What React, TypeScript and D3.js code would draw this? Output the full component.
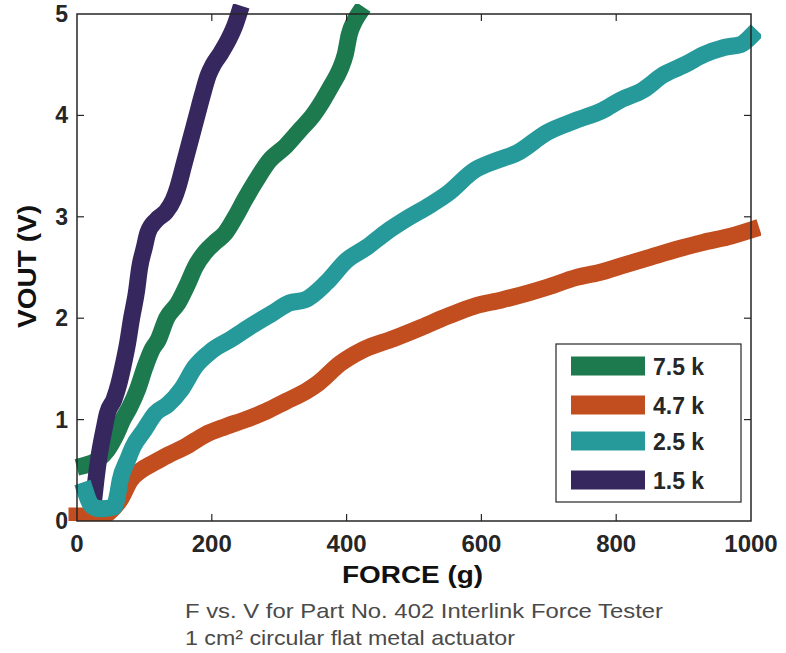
import React from "react";
import * as d3 from "d3";

// force (g) / output voltage (V)
const green75x = [12, 30, 45, 58, 68, 78, 90, 101, 112, 120, 133, 150, 165, 175, 190, 205, 220, 235, 249, 265, 285, 310, 330, 350, 365, 378, 390, 398, 404, 411, 418];
const green75y = [0.55, 0.6, 0.7, 0.85, 1.0, 1.12, 1.3, 1.52, 1.7, 1.78, 2.0, 2.15, 2.35, 2.5, 2.65, 2.75, 2.84, 3.0, 3.17, 3.35, 3.55, 3.7, 3.85, 4.0, 4.15, 4.3, 4.45, 4.6, 4.8, 4.92, 5.0];

const orange47x = [0, 15, 30, 50, 65, 79, 95, 113, 135, 160, 190, 220, 250, 280, 310, 340, 358, 390, 425, 470, 511, 550, 590, 630, 670, 700, 740, 775, 810, 850, 890, 930, 965, 1000];
const orange47y = [0.05, 0.05, 0.02, 0.1, 0.22, 0.4, 0.5, 0.57, 0.65, 0.73, 0.85, 0.93, 1.0, 1.08, 1.18, 1.28, 1.36, 1.55, 1.69, 1.8, 1.91, 2.02, 2.12, 2.18, 2.25, 2.31, 2.4, 2.45, 2.52, 2.6, 2.68, 2.75, 2.8, 2.87];

const teal25x = [12, 22, 35, 55, 60, 64, 75, 83, 100, 116, 135, 155, 175, 200, 230, 260, 290, 315, 338, 370, 400, 430, 457, 494, 520, 550, 590, 620, 653, 697, 740, 780, 806, 840, 870, 902, 930, 960, 985, 1000];
const teal25y = [0.3, 0.15, 0.12, 0.14, 0.25, 0.4, 0.6, 0.73, 0.9, 1.06, 1.15, 1.3, 1.52, 1.68, 1.8, 1.93, 2.05, 2.15, 2.18, 2.35, 2.57, 2.7, 2.84, 3.0, 3.1, 3.23, 3.46, 3.55, 3.63, 3.83, 3.95, 4.05, 4.15, 4.25, 4.4, 4.5, 4.6, 4.67, 4.7, 4.78];

const purple15x = [25, 28, 33, 40, 45, 55, 62, 68, 75, 81, 88, 93, 100, 105, 118, 132, 143, 150, 158, 168, 178, 186, 195, 202, 212, 225, 235, 240];
const purple15y = [0.22, 0.4, 0.65, 0.9, 1.06, 1.2, 1.35, 1.52, 1.75, 2.0, 2.25, 2.5, 2.7, 2.84, 2.97, 3.05, 3.17, 3.3, 3.5, 3.75, 4.0, 4.2, 4.4, 4.5, 4.6, 4.75, 4.9, 5.0];

const xTicks = [0, 200, 400, 600, 800, 1000];
const yTicks = [0, 1, 2, 3, 4, 5];

const seriesNames = ["7.5 k", "4.7 k", "2.5 k", "1.5 k"];
const seriesColors = ["#1d7a4e", "#c24e20", "#26999a", "#37275f"];

const series = [
  { name: seriesNames[0], color: seriesColors[0], xs: green75x, ys: green75y },
  { name: seriesNames[1], color: seriesColors[1], xs: orange47x, ys: orange47y },
  { name: seriesNames[3], color: seriesColors[3], xs: purple15x, ys: purple15y },
  { name: seriesNames[2], color: seriesColors[2], xs: teal25x, ys: teal25y },
];

const W = 786;
const H = 653;
const margin = { left: 77, right: 35, top: 14, bottom: 132 };
const axisColor = "#262626";
const font = "'Liberation Sans', Arial, Helvetica, sans-serif";

export default function App() {
  const x = d3.scaleLinear().domain([0, 1000]).range([margin.left, W - margin.right]);
  const y = d3.scaleLinear().domain([0, 5]).range([H - margin.bottom, margin.top]);
  const [x0, x1] = x.range();
  const [y0, y1] = y.range();

  const line = d3
    .line<[number, number]>()
    .x((d) => x(d[0]))
    .y((d) => y(d[1]))
    .curve(d3.curveMonotoneX);

  const tickLen = 7;

  // legend box
  const lg = { x: 556, y: 344, w: 185, h: 158 };
  const rowY = [366, 405, 441, 480];

  return (
    <svg
      width={W}
      height={H}
      style={{ position: "absolute", left: 0, top: 0, background: "#fff" }}
      fontFamily={font}
    >
      <rect x={0} y={0} width={W} height={H} fill="#fff" />
      <defs>
        <clipPath id="plotclip">
          <rect x={x0 - 10} y={y1 - 10} width={x1 - x0 + 20} height={y0 - y1 + 10} />
        </clipPath>
      </defs>

      {/* data lines */}
      <g clipPath="url(#plotclip)">
        {series.map((s) => (
          <path
            key={s.name}
            d={line(s.xs.map((v, i) => [v, s.ys[i]]) as [number, number][]) || ""}
            fill="none"
            stroke={s.color}
            strokeWidth={17}
            strokeLinejoin="miter"
            strokeMiterlimit={2}
            strokeLinecap="square"
          />
        ))}
      </g>

      {/* box */}
      <rect x={x0} y={y1} width={x1 - x0} height={y0 - y1} fill="none" stroke={axisColor} strokeWidth={1.5} />

      {/* ticks, inside on all four sides */}
      {xTicks.slice(1, -1).map((t) => (
        <g key={"xt" + t}>
          <line x1={x(t)} x2={x(t)} y1={y0} y2={y0 - tickLen} stroke={axisColor} strokeWidth={1.2} />
          <line x1={x(t)} x2={x(t)} y1={y1} y2={y1 + tickLen} stroke={axisColor} strokeWidth={1.2} />
        </g>
      ))}
      {yTicks.slice(1, -1).map((t) => (
        <g key={"yt" + t}>
          <line x1={x0} x2={x0 + tickLen} y1={y(t)} y2={y(t)} stroke={axisColor} strokeWidth={1.2} />
          <line x1={x1} x2={x1 - tickLen} y1={y(t)} y2={y(t)} stroke={axisColor} strokeWidth={1.2} />
        </g>
      ))}

      {/* tick labels */}
      {xTicks.map((t) => (
        <text key={"xl" + t} x={x(t)} y={y0 + 31} textAnchor="middle" fontSize={24} fontWeight="bold" fill={axisColor}>
          {t}
        </text>
      ))}
      {yTicks.map((t) => (
        <text key={"yl" + t} x={x0 - 9} y={y(t) + 8} textAnchor="end" fontSize={23} fontWeight="bold" fill={axisColor}>
          {t}
        </text>
      ))}

      {/* axis titles */}
      <text
        x={342}
        y={583}
        fontSize={24}
        fontWeight="bold"
        fill="#111"
        textLength={141}
        lengthAdjust="spacingAndGlyphs"
      >
        FORCE (g)
      </text>
      <text
        transform={`translate(36, ${(205 + 328) / 2}) rotate(-90)`}
        textAnchor="middle"
        fontSize={26}
        fontWeight="bold"
        fill="#111"
        textLength={123}
        lengthAdjust="spacingAndGlyphs"
      >
        VOUT (V)
      </text>

      {/* caption */}
      <text x={185} y={618} fontSize={21} fill="#4a4a4a" textLength={478} lengthAdjust="spacingAndGlyphs">
        F vs. V for Part No. 402 Interlink Force Tester
      </text>
      <text x={185} y={645} fontSize={21} fill="#4a4a4a" textLength={330} lengthAdjust="spacingAndGlyphs">
        1 cm² circular flat metal actuator
      </text>

      {/* legend */}
      <rect x={lg.x} y={lg.y} width={lg.w} height={lg.h} fill="#fff" stroke={axisColor} strokeWidth={1.2} />
      {seriesNames.map((n, i) => (
        <g key={"lg" + n}>
          <rect x={571} y={rowY[i] - 9.5} width={74} height={19} fill={seriesColors[i]} />
          <text x={653} y={rowY[i] + 8.5} fontSize={23} fontWeight="bold" fill={axisColor}>
            {n}
          </text>
        </g>
      ))}
    </svg>
  );
}
